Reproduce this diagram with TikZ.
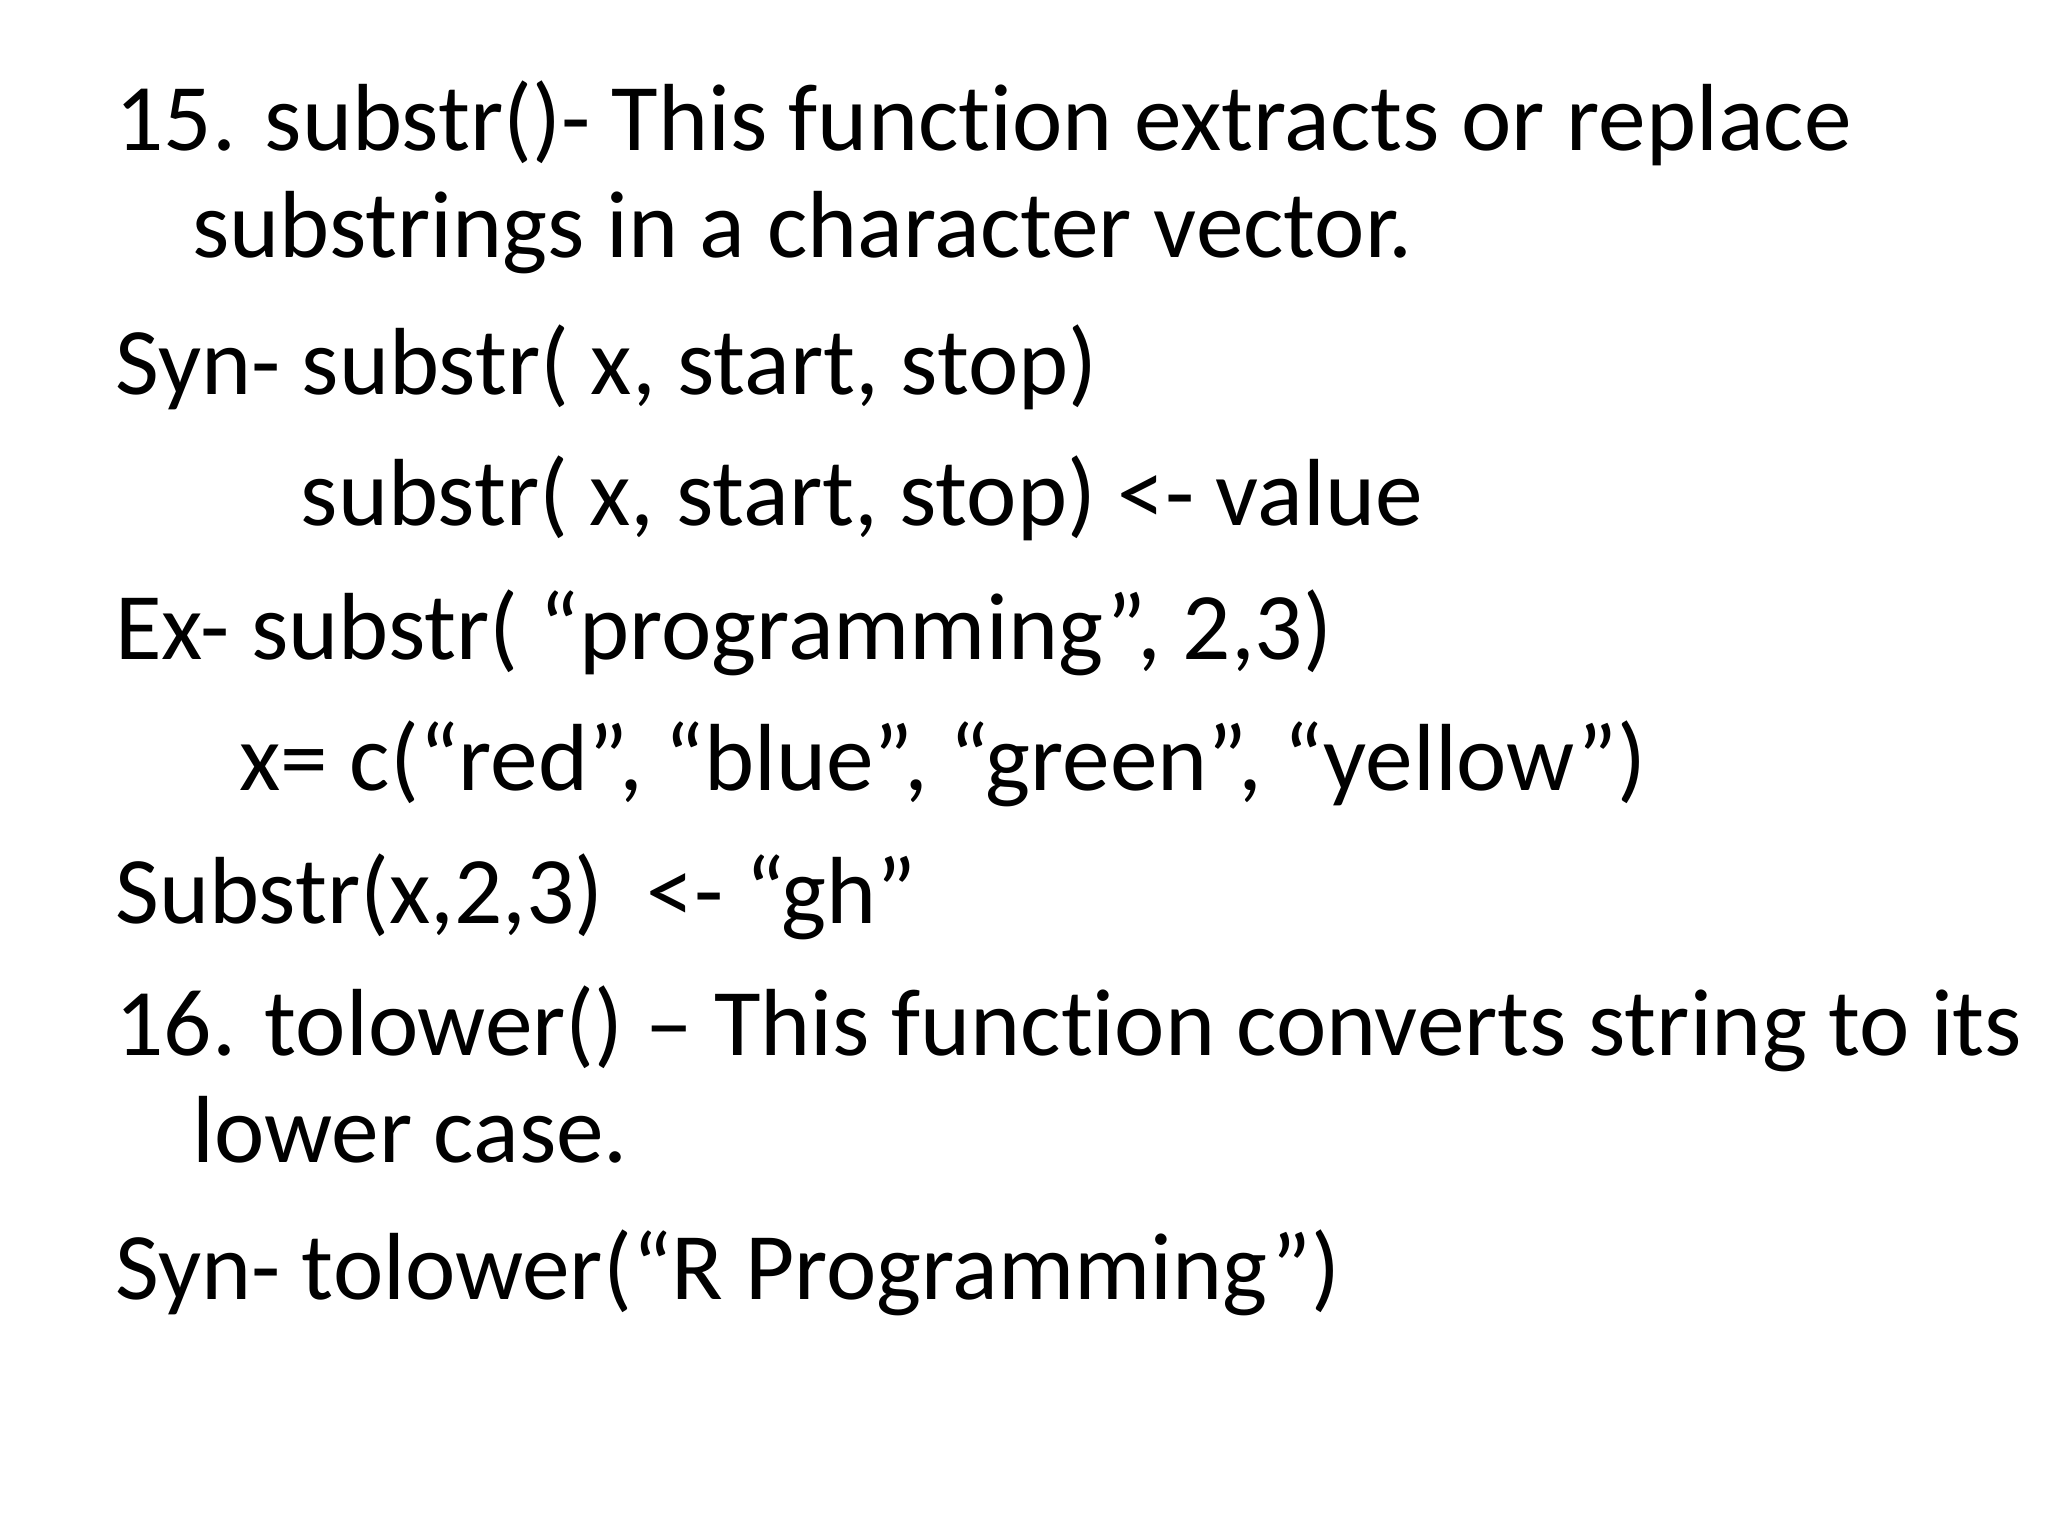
\documentclass[tikz,border=0pt]{standalone}
\usepackage{fontspec}
\setmainfont{Carlito}[RawFeature=-liga]
\begin{document}
\begin{tikzpicture}[x=0.5pt,y=-0.5pt,t/.style={anchor=base west,inner sep=0pt,font=\fontsize{36.5}{40}\selectfont}]
\useasboundingbox[fill=white] (0,0) rectangle (1568,1176);
\node[t] (l1) at (88,115) {15. substr()- This function extracts or replace};
\node[t] (l2) at (147,197) {substrings in a character vector.};
\node[t] (l3) at (88,302) {Syn- substr( x, start, stop)};
\node[t] (l4) at (230,402) {substr( x, start, stop) <- value};
\node[t] (l5) at (88,505) {Ex- substr( “programming”, 2,3)};
\node[t] (l6) at (183,605) {x= c(“red”, “blue”, “green”, “yellow”)};
\node[t] (l7) at (88,707) {Substr(x,2,3)~ <- “gh”};
\node[t] (l8) at (88,808) {16. tolower() – This function converts string to its};
\node[t] (l9) at (147,890) {lower case.};
\node[t] (l10) at (88,995) {Syn- tolower(“R Programming”)};
\end{tikzpicture}
\end{document}
